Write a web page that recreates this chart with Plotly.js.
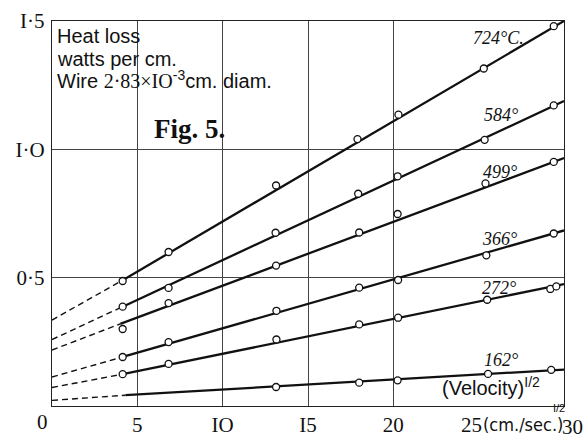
<!DOCTYPE html>
<html>
<head>
<meta charset="utf-8">
<script src="https://cdn.plot.ly/plotly-3.0.1.min.js"></script>
<style>html,body{margin:0;padding:0;background:#fff;}#chart{width:586px;height:438px;}</style>
</head>
<body>
<div id="chart"></div>
<script>
// Measured points: sqrt(velocity) vs heat loss (watts per cm)
const x724 = [4.14, 6.83, 13.13, 17.9, 20.3, 25.3, 29.4];
const y724 = [0.487, 0.600, 0.859, 1.04, 1.135, 1.315, 1.48];
const x584 = [4.14, 6.83, 13.1, 17.94, 20.25, 25.35, 29.4];
const y584 = [0.387, 0.46, 0.675, 0.827, 0.895, 1.037, 1.171];
const x499 = [4.14, 6.83, 13.13, 18.0, 20.25, 25.4, 29.4];
const y499 = [0.30, 0.401, 0.547, 0.676, 0.748, 0.867, 0.951];
const x366 = [4.14, 6.83, 13.15, 18.0, 20.28, 25.45, 29.4];
const y366 = [0.191, 0.249, 0.371, 0.461, 0.491, 0.587, 0.672];
const x272 = [4.14, 6.83, 13.15, 18.0, 20.28, 25.5, 29.2, 29.55];
const y272 = [0.124, 0.164, 0.259, 0.318, 0.344, 0.414, 0.456, 0.466];
const x162 = [13.13, 18.0, 20.25, 25.55, 29.25];
const y162 = [0.074, 0.091, 0.100, 0.125, 0.141];

// Fitted straight lines: dashed from x=0 to knee, solid from knee to x=30
const tempLabels = ["724°C.", "584°", "499°", "366°", "272°", "162°"];
const fitY0 = [0.335, 0.259, 0.218, 0.113, 0.072, 0.022];
const kneeX = [4.14, 4.14, 4.0, 4.14, 4.14, 4.3];
const kneeY = [0.49, 0.387, 0.32, 0.191, 0.124, 0.042];
const fitX30 = 30;
const fitY30 = [1.50, 1.188, 0.966, 0.684, 0.475, 0.142];

const xTickVals = [5, 10, 15, 20];
const xTickText = ["5", "IO", "I5", "20"];
const yTickVals = [0.5, 1.0, 1.5];
const yTickText = ["0·5", "I·O", "I·5"];

const pointsX = [x724, x584, x499, x366, x272, x162];
const pointsY = [y724, y584, y499, y366, y272, y162];

const traces = [];
for (let i = 0; i < tempLabels.length; i++) {
  traces.push({x: [0, kneeX[i]], y: [fitY0[i], kneeY[i]], mode: 'lines',
    line: {color: '#111', width: 1.4, dash: '6px,4px'}, hoverinfo: 'skip'});
  traces.push({x: [kneeX[i], fitX30], y: [kneeY[i], fitY30[i]], mode: 'lines',
    line: {color: '#111', width: 2.3}, hoverinfo: 'skip'});
}
for (let i = 0; i < pointsX.length; i++) {
  traces.push({x: pointsX[i], y: pointsY[i], mode: 'markers',
    marker: {symbol: 'circle', size: 7, color: '#fff', line: {color: '#111', width: 1.3}}});
}

const labelPos = [[26.16, 1.432], [26.33, 1.132], [26.27, 0.91], [26.2, 0.649], [26.2, 0.458], [26.33, 0.178]];
const serif = 'Liberation Serif, DejaVu Serif, serif';
const sans = 'Liberation Sans, Arial, sans-serif';
const narrow = 'Liberation Sans Narrow, DejaVu Sans Condensed, Liberation Sans, sans-serif';
const ink = '#111';

// helper to place text at a pixel position of the 586x438 picture
const L = 52, T = 21, W = 512, H = 385;
function px(xp, yp, text, font, xanchor) {
  return {xref: 'paper', yref: 'paper', x: (xp - L) / W, y: 1 - (yp - T) / H,
    xanchor: xanchor || 'left', yanchor: 'middle', text: text, showarrow: false, font: font};
}

const annotations = tempLabels.map((t, i) => ({
  x: labelPos[i][0], y: labelPos[i][1], xref: 'x', yref: 'y', text: '<i>' + t + '</i>',
  showarrow: false, font: {family: serif, size: 18, color: ink}
}));
annotations.push(
  px(55, 36, 'Heat loss', {family: sans, size: 20, color: ink}),
  px(55, 59, 'watts per cm.', {family: sans, size: 20, color: ink}),
  px(55, 79, 'Wire <span style="font-family:Liberation Serif;font-size:20px">2·83×IO</span><sup>-3</sup>cm. diam.', {family: sans, size: 20, color: ink}),
  px(152, 129, 'Fig. 5.', {family: serif, size: 27, color: ink, weight: 'bold'}),
  px(440, 386, '(Velocity)<sup>I/2</sup>', {family: sans, size: 20, color: ink}),
  px(42, 422, '0', {family: serif, size: 21, color: ink}, 'center'),
  px(471, 425, '25', {family: serif, size: 21, color: ink}, 'center'),
  px(481, 424, '(cm./sec.)', {family: narrow, size: 18, color: ink}),
  px(559, 408, 'I/2', {family: sans, size: 11, color: ink}, 'center'),
  px(572, 427, '30', {family: serif, size: 21, color: ink}, 'center')
);

const layout = {
  width: 586, height: 438,
  margin: {l: L, r: 586 - L - W, t: T, b: 438 - T - H, pad: 0},
  paper_bgcolor: '#fff', plot_bgcolor: '#fff',
  showlegend: false,
  xaxis: {range: [0, 30], tickvals: xTickVals, ticktext: xTickText, ticks: '',
    showgrid: true, gridcolor: '#444', gridwidth: 1, zeroline: false,
    showline: true, linecolor: '#222', linewidth: 1.2, mirror: true,
    tickfont: {family: serif, size: 21, color: ink}, fixedrange: true},
  yaxis: {range: [0, 1.5], tickvals: yTickVals, ticktext: yTickText, ticks: '',
    showgrid: true, gridcolor: '#444', gridwidth: 1, zeroline: false,
    showline: true, linecolor: '#222', linewidth: 1.2, mirror: true,
    tickfont: {family: serif, size: 21, color: ink}, ticklabelstandoff: 2, fixedrange: true},
  annotations: annotations
};

Plotly.newPlot('chart', traces, layout, {staticPlot: true, displayModeBar: false});
</script>
</body>
</html>
